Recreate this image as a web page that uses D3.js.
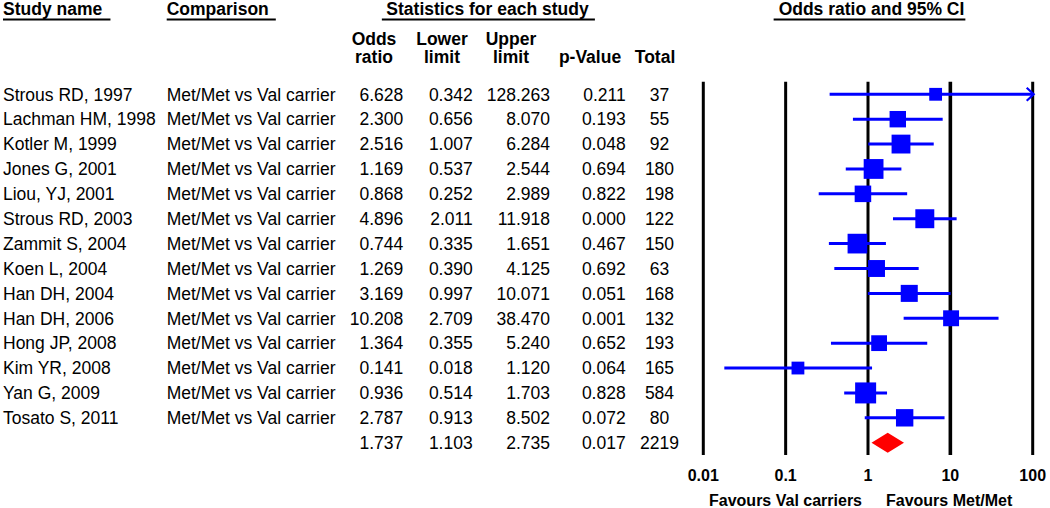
<!DOCTYPE html>
<html><head><meta charset="utf-8">
<script src="https://cdn.jsdelivr.net/npm/d3@7/dist/d3.min.js"></script>
<style>html,body{margin:0;padding:0;background:#fff}svg{display:block;font-family:"Liberation Sans",Arial,sans-serif}</style>
</head><body><svg id="c" width="1050" height="508"></svg>
<script>
// ---------- data ----------
const studies = ["Strous RD, 1997","Lachman HM, 1998","Kotler M, 1999","Jones G, 2001","Liou, YJ, 2001","Strous RD, 2003","Zammit S, 2004","Koen L, 2004","Han DH, 2004","Han DH, 2006","Hong JP, 2008","Kim YR, 2008","Yan G, 2009","Tosato S, 2011"];
const comparisons = Array(14).fill("Met/Met vs Val carrier");
const oddsRatio  = [6.628, 2.300, 2.516, 1.169, 0.868, 4.896, 0.744, 1.269, 3.169, 10.208, 1.364, 0.141, 0.936, 2.787];
const lowerLimit = [0.342, 0.656, 1.007, 0.537, 0.252, 2.011, 0.335, 0.390, 0.997, 2.709, 0.355, 0.018, 0.514, 0.913];
const upperLimit = [128.263, 8.070, 6.284, 2.544, 2.989, 11.918, 1.651, 4.125, 10.071, 38.470, 5.240, 1.120, 1.703, 8.502];
const pValue     = [0.211, 0.193, 0.048, 0.694, 0.822, 0.000, 0.467, 0.692, 0.051, 0.001, 0.652, 0.064, 0.828, 0.072];
const total      = [37, 55, 92, 180, 198, 122, 150, 63, 168, 132, 193, 165, 584, 80];
const relWeight  = [2.0, 6.6, 8.7, 9.6, 6.7, 8.8, 9.5, 7.0, 7.1, 6.2, 6.1, 3.5, 10.8, 7.4];
const summaryOR = 1.737, summaryLower = 1.103, summaryUpper = 2.735, summaryP = 0.017, summaryTotal = 2219;
const axisTicks = [0.01, 0.1, 1, 10, 100];
const tickLabels = ["0.01", "0.1", "1", "10", "100"];
const headers = ["Study name", "Comparison", "Statistics for each study", "Odds ratio and 95% CI"];
const subHeaders1 = ["Odds", "Lower", "Upper", "", ""];
const subHeaders2 = ["ratio", "limit", "limit", "p-Value", "Total"];
const favourLabels = ["Favours Val carriers", "Favours Met/Met"];

// ---------- layout ----------
const svg = d3.select("#c");
const FS = 17.5;
const x = d3.scaleLog().domain([0.01, 100]).range([703.3, 1032.7]);
const y = d3.scalePoint().domain(d3.range(15)).range([94.3, 442.7]);
const size = d3.scaleSqrt().domain([0, d3.max(relWeight)]).range([0, 21]);
const blue = "#0000ff", red = "#ff0000";

svg.append("rect").attr("width", 1050).attr("height", 508).attr("fill", "#fff");

// headers with underline
function header(txt, xpos, anchor, padL, padR) {
  const t = svg.append("text").attr("x", xpos).attr("y", 14.5)
    .attr("text-anchor", anchor).attr("font-weight", "bold").attr("font-size", FS).text(txt);
  const bb = t.node().getBBox();
  svg.append("line").attr("x1", bb.x - padL).attr("x2", bb.x + bb.width + padR)
    .attr("y1", 19.5).attr("y2", 19.5).attr("stroke", "#000").attr("stroke-width", 2);
}
header(headers[0], 3, "start", 0, 8);
header(headers[1], 166.7, "start", 0, 7);
header(headers[2], 487.5, "middle", 4.5, 6);
header(headers[3], 871.5, "middle", 5, 1);

const colRight = [403.3, 472.7, 550, 625.7];
const subCenters = [374, 442, 511, 590, 655];
subHeaders1.forEach((s, i) => {
  if (s) svg.append("text").attr("x", subCenters[i]).attr("y", 45).attr("text-anchor", "middle")
    .attr("font-weight", "bold").attr("font-size", FS).text(s);
});
subHeaders2.forEach((s, i) => {
  svg.append("text").attr("x", subCenters[i]).attr("y", 63.3).attr("text-anchor", "middle")
    .attr("font-weight", "bold").attr("font-size", FS).text(s);
});

// table rows
const rows = studies.map((s, i) => ({
  name: s, comp: comparisons[i], or: oddsRatio[i], lo: lowerLimit[i], hi: upperLimit[i],
  p: pValue[i], n: total[i], w: relWeight[i], i
}));
const allRows = rows.concat([{ name: "", comp: "", or: summaryOR, lo: summaryLower, hi: summaryUpper, p: summaryP, n: summaryTotal, i: 14, summary: true }]);

const tg = svg.append("g").attr("font-size", FS).attr("fill", "#000");
allRows.forEach(r => {
  const yy = y(r.i) + 6.3;
  tg.append("text").attr("x", 3).attr("y", yy).text(r.name);
  tg.append("text").attr("x", 166.7).attr("y", yy).text(r.comp);
  [r.or, r.lo, r.hi, r.p].forEach((v, k) => {
    tg.append("text").attr("x", colRight[k]).attr("y", yy).attr("text-anchor", "end").text(v.toFixed(3));
  });
  tg.append("text").attr("x", 659.5).attr("y", yy).attr("text-anchor", "middle").text(r.n);
});

// vertical reference lines
svg.append("g").selectAll("line").data(axisTicks).join("line")
  .attr("x1", d => x(d)).attr("x2", d => x(d)).attr("y1", 81.7).attr("y2", 455)
  .attr("stroke", "#000").attr("stroke-width", d => d === 10 ? 3.6 : 3);

// tick labels
svg.append("g").selectAll("text").data(axisTicks).join("text")
  .attr("x", d => x(d)).attr("y", 481).attr("text-anchor", "middle")
  .attr("font-weight", "bold").attr("font-size", 16).text((d, i) => tickLabels[i]);

// favours labels
svg.append("text").attr("x", x(1) - 6).attr("y", 505.5).attr("text-anchor", "end")
  .attr("font-weight", "bold").attr("font-size", 16).text(favourLabels[0]);
svg.append("text").attr("x", x(1) + 18).attr("y", 505.5).attr("text-anchor", "start")
  .attr("font-weight", "bold").attr("font-size", 16).text(favourLabels[1]);

// CI lines
const [dMin, dMax] = x.domain();
const mg = svg.append("g");
rows.forEach(r => {
  const yy = y(r.i);
  const lo = Math.max(r.lo, dMin), hi = Math.min(r.hi, dMax);
  mg.append("line").attr("x1", x(lo)).attr("x2", x(hi)).attr("y1", yy).attr("y2", yy)
    .attr("stroke", blue).attr("stroke-width", 3);
  if (r.hi > dMax) {
    const xe = x(dMax) + 1;
    mg.append("path").attr("d", `M${xe - 7},${yy - 6.5}L${xe},${yy}L${xe - 7},${yy + 6.5}`)
      .attr("fill", "none").attr("stroke", blue).attr("stroke-width", 2.2);
  }
  const s = Math.max(12.8, size(r.w));
  mg.append("rect").attr("x", x(r.or) - s / 2).attr("y", yy - s / 2)
    .attr("width", s).attr("height", s).attr("fill", blue);
});

// summary diamond
const ys = y(14);
svg.append("path")
  .attr("d", `M${x(summaryLower)},${ys}L${x(summaryOR)},${ys - 10}L${x(summaryUpper)},${ys}L${x(summaryOR)},${ys + 10}Z`)
  .attr("fill", red);
</script></body></html>
